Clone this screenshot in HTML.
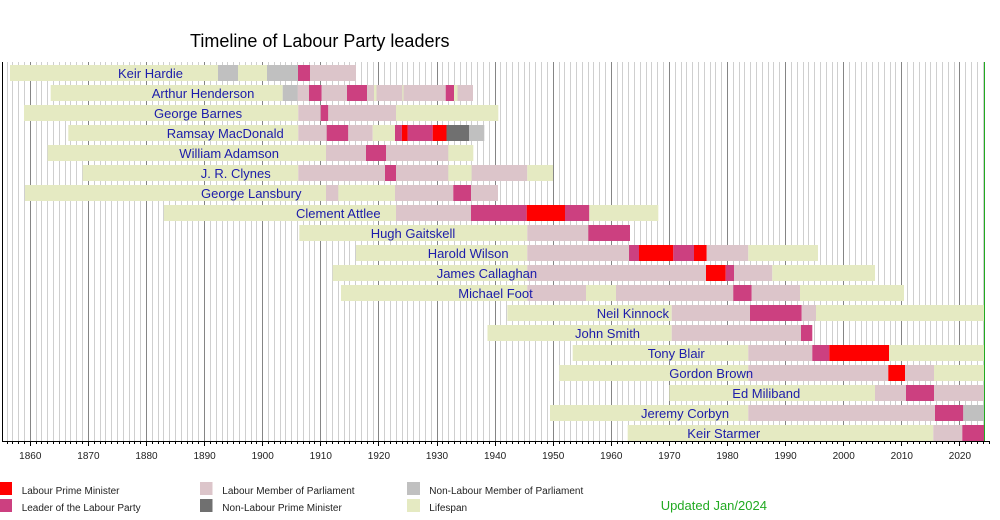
<!DOCTYPE html>
<html><head><meta charset="utf-8"><style>
html,body{margin:0;padding:0;background:#fff;width:1000px;height:520px;overflow:hidden}
svg{display:block}
text{font-family:"Liberation Sans",Arial,sans-serif}
</style></head><body>
<svg width="1000" height="520" viewBox="0 0 1000 520" xmlns="http://www.w3.org/2000/svg">
<rect width="1000" height="520" fill="#fff"/>
<text x="190" y="47" font-size="18" fill="#000">Timeline of Labour Party leaders</text>
<path stroke="#cfcfcf" stroke-width="1" fill="none" d="M7.5 62v379M12.5 62v379M18.5 62v379M24.5 62v379M36.5 62v379M41.5 62v379M47.5 62v379M53.5 62v379M59.5 62v379M65.5 62v379M70.5 62v379M76.5 62v379M82.5 62v379M94.5 62v379M100.5 62v379M105.5 62v379M111.5 62v379M117.5 62v379M123.5 62v379M129.5 62v379M134.5 62v379M140.5 62v379M152.5 62v379M158.5 62v379M163.5 62v379M169.5 62v379M175.5 62v379M181.5 62v379M187.5 62v379M192.5 62v379M198.5 62v379M210.5 62v379M216.5 62v379M222.5 62v379M227.5 62v379M233.5 62v379M239.5 62v379M245.5 62v379M251.5 62v379M256.5 62v379M268.5 62v379M274.5 62v379M280.5 62v379M285.5 62v379M291.5 62v379M297.5 62v379M303.5 62v379M309.5 62v379M314.5 62v379M326.5 62v379M332.5 62v379M338.5 62v379M344.5 62v379M349.5 62v379M355.5 62v379M361.5 62v379M367.5 62v379M373.5 62v379M384.5 62v379M390.5 62v379M396.5 62v379M402.5 62v379M407.5 62v379M413.5 62v379M419.5 62v379M425.5 62v379M431.5 62v379M442.5 62v379M448.5 62v379M454.5 62v379M460.5 62v379M466.5 62v379M471.5 62v379M477.5 62v379M483.5 62v379M489.5 62v379M500.5 62v379M506.5 62v379M512.5 62v379M518.5 62v379M524.5 62v379M529.5 62v379M535.5 62v379M541.5 62v379M547.5 62v379M559.5 62v379M564.5 62v379M570.5 62v379M576.5 62v379M582.5 62v379M588.5 62v379M593.5 62v379M599.5 62v379M605.5 62v379M617.5 62v379M622.5 62v379M628.5 62v379M634.5 62v379M640.5 62v379M646.5 62v379M651.5 62v379M657.5 62v379M663.5 62v379M675.5 62v379M681.5 62v379M686.5 62v379M692.5 62v379M698.5 62v379M704.5 62v379M710.5 62v379M715.5 62v379M721.5 62v379M733.5 62v379M739.5 62v379M744.5 62v379M750.5 62v379M756.5 62v379M762.5 62v379M768.5 62v379M773.5 62v379M779.5 62v379M791.5 62v379M797.5 62v379M803.5 62v379M808.5 62v379M814.5 62v379M820.5 62v379M826.5 62v379M832.5 62v379M837.5 62v379M849.5 62v379M855.5 62v379M861.5 62v379M866.5 62v379M872.5 62v379M878.5 62v379M884.5 62v379M890.5 62v379M895.5 62v379M907.5 62v379M913.5 62v379M919.5 62v379M925.5 62v379M930.5 62v379M936.5 62v379M942.5 62v379M948.5 62v379M954.5 62v379M965.5 62v379M971.5 62v379M977.5 62v379M983.5 62v379"/>
<path stroke="#858585" stroke-width="1" fill="none" d="M30.5 62v379M88.5 62v379M146.5 62v379M204.5 62v379M262.5 62v379M320.5 62v379M378.5 62v379M437.5 62v379M495.5 62v379M553.5 62v379M611.5 62v379M669.5 62v379M727.5 62v379M785.5 62v379M843.5 62v379M901.5 62v379M959.5 62v379"/>

<!-- Row 0 Keir Hardie -->
<g>
<rect x="10" y="65" width="208" height="16" fill="#e5eac2"/>
<rect x="218" y="65" width="20" height="16" fill="#c0c0c0"/>
<rect x="238" y="65" width="29" height="16" fill="#e5eac2"/>
<rect x="267" y="65" width="31" height="16" fill="#c0c0c0"/>
<rect x="298" y="65" width="12" height="16" fill="#cc4080"/>
<rect x="310" y="65" width="46" height="16" fill="#dcc5ca"/>
</g>
<!-- Row 1 Arthur Henderson -->
<g>
<rect x="50.7" y="85" width="232" height="16" fill="#e5eac2"/>
<rect x="282.7" y="85" width="15" height="16" fill="#c0c0c0"/>
<rect x="297.7" y="85" width="11.3" height="16" fill="#dcc5ca"/>
<rect x="309" y="85" width="12.7" height="16" fill="#cc4080"/>
<rect x="321.7" y="85" width="25.3" height="16" fill="#dcc5ca"/>
<rect x="347" y="85" width="20" height="16" fill="#cc4080"/>
<rect x="367" y="85" width="7" height="16" fill="#dcc5ca"/>
<rect x="374" y="85" width="2.5" height="16" fill="#e5eac2"/>
<rect x="376.5" y="85" width="25.8" height="16" fill="#dcc5ca"/>
<rect x="402.3" y="85" width="1.2" height="16" fill="#e5eac2"/>
<rect x="403.5" y="85" width="42.2" height="16" fill="#dcc5ca"/>
<rect x="445.7" y="85" width="8.3" height="16" fill="#cc4080"/>
<rect x="454" y="85" width="3.5" height="16" fill="#e5eac2"/>
<rect x="457.5" y="85" width="15.5" height="16" fill="#dcc5ca"/>
</g>
<!-- Row 2 George Barnes -->
<g>
<rect x="24" y="105" width="274.3" height="16" fill="#e5eac2"/>
<rect x="298.3" y="105" width="22.4" height="16" fill="#dcc5ca"/>
<rect x="320.7" y="105" width="7.6" height="16" fill="#cc4080"/>
<rect x="328.3" y="105" width="67.7" height="16" fill="#dcc5ca"/>
<rect x="396" y="105" width="102.3" height="16" fill="#e5eac2"/>
</g>
<!-- Row 3 Ramsay MacDonald -->
<g>
<rect x="68.3" y="125" width="230" height="16" fill="#e5eac2"/>
<rect x="298.3" y="125" width="28.4" height="16" fill="#dcc5ca"/>
<rect x="326.7" y="125" width="21.6" height="16" fill="#cc4080"/>
<rect x="348.3" y="125" width="24.4" height="16" fill="#dcc5ca"/>
<rect x="372.7" y="125" width="22.3" height="16" fill="#e5eac2"/>
<rect x="395" y="125" width="6.9" height="16" fill="#cc4080"/>
<rect x="401.9" y="125" width="5.8" height="16" fill="#ff0000"/>
<rect x="407.7" y="125" width="25" height="16" fill="#cc4080"/>
<rect x="432.7" y="125" width="13.8" height="16" fill="#ff0000"/>
<rect x="446.5" y="125" width="22.5" height="16" fill="#707070"/>
<rect x="469" y="125" width="15.3" height="16" fill="#c0c0c0"/>
</g>
<!-- Row 4 William Adamson -->
<g>
<rect x="47.7" y="145" width="278.3" height="16" fill="#e5eac2"/>
<rect x="326" y="145" width="40" height="16" fill="#dcc5ca"/>
<rect x="366" y="145" width="20" height="16" fill="#cc4080"/>
<rect x="386" y="145" width="62.3" height="16" fill="#dcc5ca"/>
<rect x="448.3" y="145" width="25" height="16" fill="#e5eac2"/>
</g>
<!-- Row 5 J. R. Clynes -->
<g>
<rect x="82.7" y="165" width="215.6" height="16" fill="#e5eac2"/>
<rect x="298.3" y="165" width="86.7" height="16" fill="#dcc5ca"/>
<rect x="385" y="165" width="11" height="16" fill="#cc4080"/>
<rect x="396" y="165" width="52.3" height="16" fill="#dcc5ca"/>
<rect x="448.3" y="165" width="23.4" height="16" fill="#e5eac2"/>
<rect x="471.7" y="165" width="55.6" height="16" fill="#dcc5ca"/>
<rect x="527.3" y="165" width="25.7" height="16" fill="#e5eac2"/>
</g>
<!-- Row 6 George Lansbury -->
<g>
<rect x="25" y="185" width="301" height="16" fill="#e5eac2"/>
<rect x="326" y="185" width="12.3" height="16" fill="#dcc5ca"/>
<rect x="338.3" y="185" width="56.7" height="16" fill="#e5eac2"/>
<rect x="395" y="185" width="58.3" height="16" fill="#dcc5ca"/>
<rect x="453.3" y="185" width="17.7" height="16" fill="#cc4080"/>
<rect x="471" y="185" width="27" height="16" fill="#dcc5ca"/>
</g>
<!-- Row 7 Clement Attlee -->
<g>
<rect x="163.9" y="205" width="232.1" height="16" fill="#e5eac2"/>
<rect x="396" y="205" width="75" height="16" fill="#dcc5ca"/>
<rect x="471" y="205" width="55.7" height="16" fill="#cc4080"/>
<rect x="526.7" y="205" width="38.3" height="16" fill="#ff0000"/>
<rect x="565" y="205" width="24.3" height="16" fill="#cc4080"/>
<rect x="589.3" y="205" width="69" height="16" fill="#e5eac2"/>
</g>
<!-- Row 8 Hugh Gaitskell -->
<g>
<rect x="299.3" y="225" width="228" height="16" fill="#e5eac2"/>
<rect x="527.3" y="225" width="61" height="16" fill="#dcc5ca"/>
<rect x="588.3" y="225" width="41.7" height="16" fill="#cc4080"/>
</g>
<!-- Row 9 Harold Wilson -->
<g>
<rect x="356" y="245" width="171.3" height="16" fill="#e5eac2"/>
<rect x="527.3" y="245" width="101.7" height="16" fill="#dcc5ca"/>
<rect x="629" y="245" width="10" height="16" fill="#cc4080"/>
<rect x="639" y="245" width="34.3" height="16" fill="#ff0000"/>
<rect x="673.3" y="245" width="20.7" height="16" fill="#cc4080"/>
<rect x="694" y="245" width="12.7" height="16" fill="#ff0000"/>
<rect x="706.7" y="245" width="41.6" height="16" fill="#dcc5ca"/>
<rect x="748.3" y="245" width="69.7" height="16" fill="#e5eac2"/>
</g>
<!-- Row 10 James Callaghan -->
<g>
<rect x="332.7" y="265" width="194.6" height="16" fill="#e5eac2"/>
<rect x="527.3" y="265" width="178.7" height="16" fill="#dcc5ca"/>
<rect x="706" y="265" width="19.7" height="16" fill="#ff0000"/>
<rect x="725.7" y="265" width="8.3" height="16" fill="#cc4080"/>
<rect x="734" y="265" width="38.3" height="16" fill="#dcc5ca"/>
<rect x="772.3" y="265" width="102.7" height="16" fill="#e5eac2"/>
</g>
<!-- Row 11 Michael Foot -->
<g>
<rect x="341" y="285" width="186.3" height="16" fill="#e5eac2"/>
<rect x="527.3" y="285" width="58.7" height="16" fill="#dcc5ca"/>
<rect x="586" y="285" width="30" height="16" fill="#e5eac2"/>
<rect x="616" y="285" width="117.3" height="16" fill="#dcc5ca"/>
<rect x="733.3" y="285" width="18.4" height="16" fill="#cc4080"/>
<rect x="751.7" y="285" width="48.3" height="16" fill="#dcc5ca"/>
<rect x="800" y="285" width="104" height="16" fill="#e5eac2"/>
</g>
<!-- Row 12 Neil Kinnock -->
<g>
<rect x="507.3" y="305" width="164.4" height="16" fill="#e5eac2"/>
<rect x="671.7" y="305" width="78.3" height="16" fill="#dcc5ca"/>
<rect x="750" y="305" width="51.7" height="16" fill="#cc4080"/>
<rect x="801.7" y="305" width="14.3" height="16" fill="#dcc5ca"/>
<rect x="816" y="305" width="168" height="16" fill="#e5eac2"/>
</g>
<!-- Row 13 John Smith -->
<g>
<rect x="487.5" y="325" width="184.2" height="16" fill="#e5eac2"/>
<rect x="671.7" y="325" width="129.3" height="16" fill="#dcc5ca"/>
<rect x="801" y="325" width="11.3" height="16" fill="#cc4080"/>
</g>
<!-- Row 14 Tony Blair -->
<g>
<rect x="572.7" y="345" width="175.6" height="16" fill="#e5eac2"/>
<rect x="748.3" y="345" width="64" height="16" fill="#dcc5ca"/>
<rect x="812.3" y="345" width="17" height="16" fill="#cc4080"/>
<rect x="829.3" y="345" width="59.7" height="16" fill="#ff0000"/>
<rect x="889" y="345" width="95" height="16" fill="#e5eac2"/>
</g>
<!-- Row 15 Gordon Brown -->
<g>
<rect x="559.3" y="365" width="189" height="16" fill="#e5eac2"/>
<rect x="748.3" y="365" width="140" height="16" fill="#dcc5ca"/>
<rect x="888.3" y="365" width="16.7" height="16" fill="#ff0000"/>
<rect x="905" y="365" width="29" height="16" fill="#dcc5ca"/>
<rect x="934" y="365" width="50" height="16" fill="#e5eac2"/>
</g>
<!-- Row 16 Ed Miliband -->
<g>
<rect x="669.3" y="385" width="205.7" height="16" fill="#e5eac2"/>
<rect x="875" y="385" width="31" height="16" fill="#dcc5ca"/>
<rect x="906" y="385" width="28" height="16" fill="#cc4080"/>
<rect x="934" y="385" width="50" height="16" fill="#dcc5ca"/>
</g>
<!-- Row 17 Jeremy Corbyn -->
<g>
<rect x="550" y="405" width="198.3" height="16" fill="#e5eac2"/>
<rect x="748.3" y="405" width="186.7" height="16" fill="#dcc5ca"/>
<rect x="935" y="405" width="28.3" height="16" fill="#cc4080"/>
<rect x="963.3" y="405" width="20.7" height="16" fill="#c0c0c0"/>
</g>
<!-- Row 18 Keir Starmer -->
<g>
<rect x="627.7" y="425" width="305.6" height="16" fill="#e5eac2"/>
<rect x="933.3" y="425" width="29" height="16" fill="#dcc5ca"/>
<rect x="962.3" y="425" width="21.7" height="16" fill="#cc4080"/>
</g>

<!-- labels -->
<g font-size="13" fill="#1c1caa">
<text x="118" y="78">Keir Hardie</text>
<text x="151.7" y="98">Arthur Henderson</text>
<text x="154" y="118">George Barnes</text>
<text x="166.7" y="138">Ramsay MacDonald</text>
<text x="179.3" y="158">William Adamson</text>
<text x="200.7" y="178">J. R. Clynes</text>
<text x="201" y="198">George Lansbury</text>
<text x="296" y="218">Clement Attlee</text>
<text x="370.7" y="238">Hugh Gaitskell</text>
<text x="427.7" y="258">Harold Wilson</text>
<text x="436.7" y="278">James Callaghan</text>
<text x="458.3" y="298">Michael Foot</text>
<text x="596.7" y="318">Neil Kinnock</text>
<text x="575" y="338">John Smith</text>
<text x="647.7" y="358">Tony Blair</text>
<text x="669.3" y="378">Gordon Brown</text>
<text x="732.3" y="398">Ed Miliband</text>
<text x="641" y="418">Jeremy Corbyn</text>
<text x="687.3" y="438">Keir Starmer</text>
</g>

<!-- green now line -->
<line x1="984.5" y1="62" x2="984.5" y2="441" stroke="#22aa22" stroke-width="1"/>

<!-- axes -->
<line x1="2.5" y1="62" x2="2.5" y2="441" stroke="#000" stroke-width="1"/>
<line x1="2" y1="441.5" x2="990" y2="441.5" stroke="#000" stroke-width="1"/>
<path stroke="#000" stroke-width="1" fill="none" d="M7.5 441v3M12.5 441v3M18.5 441v3M24.5 441v3M36.5 441v3M41.5 441v3M47.5 441v3M53.5 441v3M59.5 441v3M65.5 441v3M70.5 441v3M76.5 441v3M82.5 441v3M94.5 441v3M100.5 441v3M105.5 441v3M111.5 441v3M117.5 441v3M123.5 441v3M129.5 441v3M134.5 441v3M140.5 441v3M152.5 441v3M158.5 441v3M163.5 441v3M169.5 441v3M175.5 441v3M181.5 441v3M187.5 441v3M192.5 441v3M198.5 441v3M210.5 441v3M216.5 441v3M222.5 441v3M227.5 441v3M233.5 441v3M239.5 441v3M245.5 441v3M251.5 441v3M256.5 441v3M268.5 441v3M274.5 441v3M280.5 441v3M285.5 441v3M291.5 441v3M297.5 441v3M303.5 441v3M309.5 441v3M314.5 441v3M326.5 441v3M332.5 441v3M338.5 441v3M344.5 441v3M349.5 441v3M355.5 441v3M361.5 441v3M367.5 441v3M373.5 441v3M384.5 441v3M390.5 441v3M396.5 441v3M402.5 441v3M407.5 441v3M413.5 441v3M419.5 441v3M425.5 441v3M431.5 441v3M442.5 441v3M448.5 441v3M454.5 441v3M460.5 441v3M466.5 441v3M471.5 441v3M477.5 441v3M483.5 441v3M489.5 441v3M500.5 441v3M506.5 441v3M512.5 441v3M518.5 441v3M524.5 441v3M529.5 441v3M535.5 441v3M541.5 441v3M547.5 441v3M559.5 441v3M564.5 441v3M570.5 441v3M576.5 441v3M582.5 441v3M588.5 441v3M593.5 441v3M599.5 441v3M605.5 441v3M617.5 441v3M622.5 441v3M628.5 441v3M634.5 441v3M640.5 441v3M646.5 441v3M651.5 441v3M657.5 441v3M663.5 441v3M675.5 441v3M681.5 441v3M686.5 441v3M692.5 441v3M698.5 441v3M704.5 441v3M710.5 441v3M715.5 441v3M721.5 441v3M733.5 441v3M739.5 441v3M744.5 441v3M750.5 441v3M756.5 441v3M762.5 441v3M768.5 441v3M773.5 441v3M779.5 441v3M791.5 441v3M797.5 441v3M803.5 441v3M808.5 441v3M814.5 441v3M820.5 441v3M826.5 441v3M832.5 441v3M837.5 441v3M849.5 441v3M855.5 441v3M861.5 441v3M866.5 441v3M872.5 441v3M878.5 441v3M884.5 441v3M890.5 441v3M895.5 441v3M907.5 441v3M913.5 441v3M919.5 441v3M925.5 441v3M930.5 441v3M936.5 441v3M942.5 441v3M948.5 441v3M954.5 441v3M965.5 441v3M971.5 441v3M977.5 441v3M983.5 441v3M989.5 441v3M30.5 441v5M88.5 441v5M146.5 441v5M204.5 441v5M262.5 441v5M320.5 441v5M378.5 441v5M437.5 441v5M495.5 441v5M553.5 441v5M611.5 441v5M669.5 441v5M727.5 441v5M785.5 441v5M843.5 441v5M901.5 441v5M959.5 441v5"/>
<g font-size="10" fill="#222" text-anchor="middle">
<text x="30.3" y="459">1860</text>
<text x="88.4" y="459">1870</text>
<text x="146.5" y="459">1880</text>
<text x="204.6" y="459">1890</text>
<text x="262.7" y="459">1900</text>
<text x="320.8" y="459">1910</text>
<text x="378.9" y="459">1920</text>
<text x="437" y="459">1930</text>
<text x="495.1" y="459">1940</text>
<text x="553.2" y="459">1950</text>
<text x="611.3" y="459">1960</text>
<text x="669.4" y="459">1970</text>
<text x="727.5" y="459">1980</text>
<text x="785.6" y="459">1990</text>
<text x="843.7" y="459">2000</text>
<text x="901.8" y="459">2010</text>
<text x="959.9" y="459">2020</text>
</g>

<!-- legend -->
<rect x="0" y="482" width="12" height="13" fill="#ff0000"/>
<rect x="0" y="499" width="12" height="13" fill="#cc4080"/>
<rect x="200" y="482" width="12.5" height="13" fill="#dcc5ca"/>
<rect x="200" y="499" width="12.5" height="13" fill="#707070"/>
<rect x="407" y="482" width="13" height="13" fill="#c0c0c0"/>
<rect x="407" y="499" width="13" height="13" fill="#e5eac2"/>
<g font-size="10" fill="#222">
<text x="21.7" y="494">Labour Prime Minister</text>
<text x="21.7" y="511">Leader of the Labour Party</text>
<text x="222.3" y="494">Labour Member of Parliament</text>
<text x="222.3" y="511">Non-Labour Prime Minister</text>
<text x="429.3" y="494">Non-Labour Member of Parliament</text>
<text x="429.3" y="511">Lifespan</text>
</g>
<text x="660.7" y="510" font-size="13" fill="#22aa22">Updated Jan/2024</text>
</svg>
</body></html>
